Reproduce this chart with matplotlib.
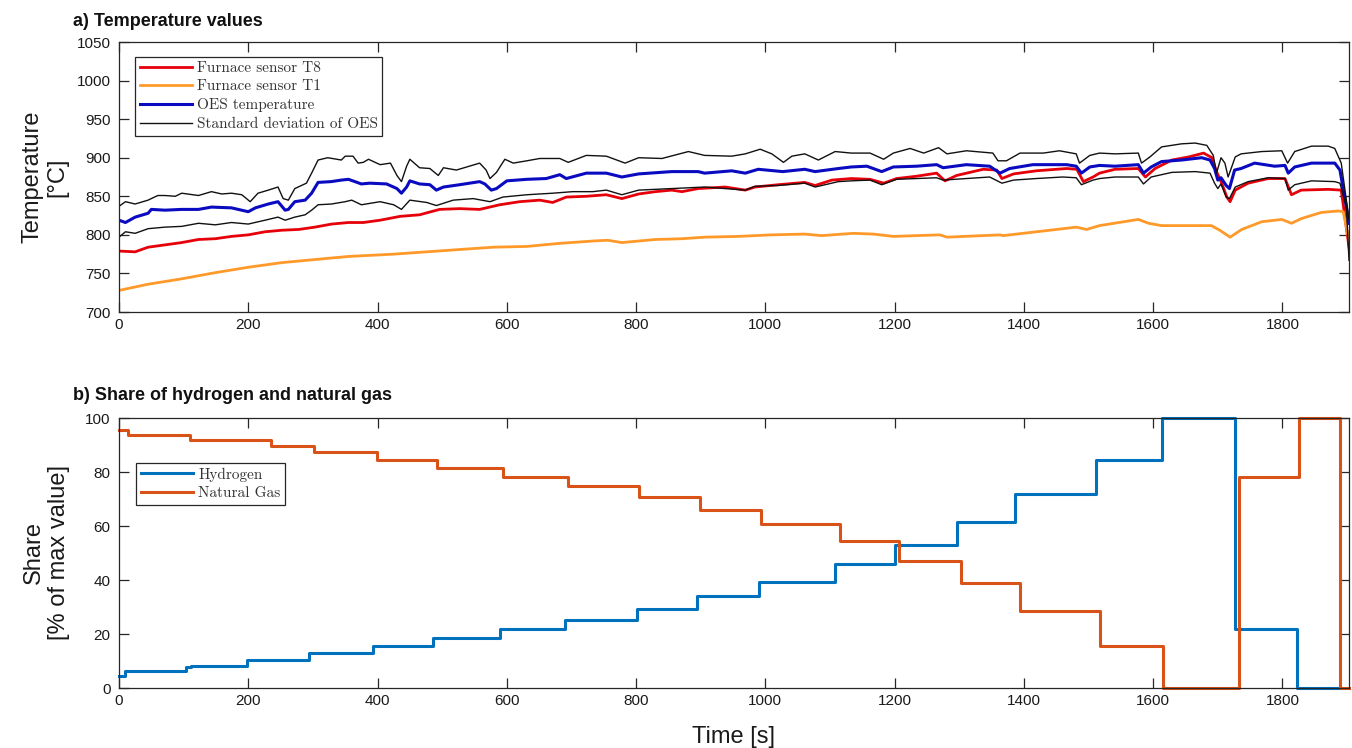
import matplotlib
matplotlib.use("Agg")
import matplotlib.pyplot as plt
import numpy as np

# ---------------- data: a) temperature values ----------------
t_oes = [0, 10, 25, 45, 50, 71, 97, 123, 143, 174,
         200, 211, 231, 246, 257, 262, 272, 288, 298, 308,
         328, 344, 355, 365, 375, 388, 414, 430, 437, 445,
         450, 465, 481, 491, 502, 527, 558, 566, 576, 584,
         600, 631, 661, 682, 692, 723, 754, 778, 804, 855,
         896, 906, 948, 969, 989, 1027, 1061, 1077, 1113, 1133,
         1157, 1180, 1198, 1234, 1265, 1275, 1311, 1347, 1363, 1378,
         1414, 1466, 1481, 1489, 1502, 1517, 1541, 1577, 1585, 1597,
         1613, 1644, 1675, 1688, 1695, 1700, 1705, 1713, 1718, 1726,
         1736, 1757, 1788, 1804, 1809, 1819, 1845, 1881, 1889, 1899,
         1903]
oes_temp = [819, 816, 823, 828, 833, 832, 833, 833, 836, 835,
            830, 835, 840, 843, 832, 833, 843, 845, 854, 868,
            869, 871, 872, 869, 866, 867, 866, 860, 854, 862,
            870, 866, 865, 858, 862, 865, 869, 866, 858, 860,
            870, 872, 873, 878, 873, 880, 880, 875, 879, 882,
            882, 880, 883, 880, 885, 882, 885, 882, 886, 888,
            889, 882, 888, 889, 891, 887, 891, 889, 880, 886,
            891, 891, 889, 880, 888, 890, 889, 891, 880, 888,
            895, 897, 900, 897, 886, 871, 874, 864, 860, 884,
            886, 893, 889, 890, 880, 888, 893, 893, 884, 836,
            815]

t_t8 = [0, 25, 45, 71, 97, 123, 149, 174, 200, 226,
        252, 278, 303, 329, 355, 378, 404, 435, 465, 496,
        527, 558, 589, 620, 651, 671, 692, 723, 754, 778,
        804, 830, 855, 871, 896, 938, 969, 984, 1020, 1061,
        1077, 1103, 1133, 1162, 1183, 1203, 1234, 1265, 1278, 1296,
        1337, 1358, 1366, 1384, 1419, 1466, 1482, 1492, 1507, 1517,
        1541, 1577, 1588, 1603, 1629, 1655, 1678, 1691, 1698, 1706,
        1714, 1719, 1727, 1747, 1778, 1804, 1814, 1829, 1871, 1891,
        1903]
t8_temp = [779, 778, 784, 787, 790, 794, 795, 798, 800, 804,
           806, 807, 810, 814, 816, 816, 819, 824, 826, 833,
           834, 833, 839, 843, 845, 842, 849, 850, 852, 847,
           853, 856, 858, 856, 860, 862, 858, 862, 865, 868,
           864, 871, 873, 872, 867, 873, 876, 880, 870, 877,
           885, 884, 873, 879, 883, 886, 885, 869, 875, 880,
           885, 886, 875, 886, 897, 901, 906, 900, 882, 867,
           849, 843, 858, 867, 873, 873, 852, 858, 859, 858,
           784]

t_t1 = [0, 45, 97, 149, 200, 252, 303, 355, 425, 476,
        527, 579, 631, 682, 733, 756, 778, 830, 871, 906,
        958, 1010, 1061, 1087, 1136, 1167, 1198, 1270, 1281, 1363,
        1368, 1440, 1481, 1497, 1517, 1577, 1593, 1613, 1690, 1703,
        1719, 1737, 1768, 1799, 1814, 1829, 1860, 1886, 1894, 1903]
t1_temp = [728, 736, 743, 751, 758, 764, 768, 772, 775, 778,
           781, 784, 785, 789, 792, 793, 790, 794, 795, 797,
           798, 800, 801, 799, 802, 801, 798, 800, 797, 800,
           799, 806, 810, 807, 812, 820, 815, 812, 812, 806,
           797, 807, 817, 820, 815, 821, 829, 831, 830, 793]

t_std_hi = [0, 10, 25, 45, 60, 71, 87, 97, 123, 143,
            159, 174, 190, 203, 215, 231, 246, 254, 262, 272,
            290, 298, 308, 323, 344, 350, 362, 370, 378, 386,
            404, 420, 430, 437, 445, 450, 465, 481, 494, 502,
            522, 538, 558, 568, 574, 584, 597, 610, 631, 651,
            682, 695, 723, 754, 783, 804, 840, 881, 906, 948,
            969, 992, 1010, 1028, 1041, 1061, 1082, 1108, 1133, 1162,
            1183, 1198, 1224, 1245, 1268, 1281, 1311, 1352, 1360, 1373,
            1394, 1430, 1455, 1481, 1486, 1502, 1517, 1541, 1577, 1582,
            1595, 1613, 1644, 1665, 1683, 1693, 1698, 1705, 1711, 1716,
            1727, 1736, 1768, 1799, 1808, 1819, 1845, 1871, 1881, 1891,
            1903]
std_hi = [837, 843, 840, 845, 851, 851, 850, 854, 851, 856,
          853, 854, 852, 843, 854, 858, 862, 847, 845, 860,
          867, 880, 897, 900, 897, 902, 902, 893, 894, 898,
          891, 893, 877, 869, 889, 898, 887, 886, 877, 887,
          884, 888, 893, 884, 873, 881, 898, 893, 896, 899,
          899, 894, 903, 902, 893, 900, 899, 908, 903, 902,
          905, 911, 905, 894, 902, 905, 897, 908, 906, 906,
          898, 906, 912, 906, 913, 905, 909, 906, 896, 896,
          906, 906, 909, 905, 893, 903, 906, 905, 906, 893,
          901, 914, 918, 919, 916, 903, 880, 900, 893, 875,
          901, 905, 908, 909, 893, 908, 915, 915, 912, 893,
          820]

t_std_lo = [0, 10, 25, 45, 71, 97, 123, 149, 174, 200,
            226, 246, 257, 272, 288, 298, 308, 329, 350, 360,
            375, 404, 425, 437, 450, 476, 491, 517, 548, 574,
            594, 631, 671, 702, 733, 754, 778, 804, 855, 906,
            969, 984, 1020, 1061, 1077, 1113, 1133, 1162, 1180, 1203,
            1234, 1265, 1275, 1311, 1347, 1366, 1384, 1419, 1460, 1481,
            1489, 1507, 1517, 1541, 1577, 1585, 1597, 1629, 1665, 1688,
            1695, 1700, 1705, 1713, 1718, 1727, 1747, 1778, 1804, 1809,
            1819, 1845, 1881, 1889, 1899, 1903]
std_lo = [797, 804, 802, 808, 810, 811, 815, 813, 816, 814,
          819, 823, 819, 823, 826, 832, 839, 840, 843, 845,
          839, 843, 839, 833, 845, 842, 838, 845, 847, 843,
          849, 852, 854, 856, 856, 858, 852, 858, 860, 862,
          858, 863, 864, 867, 862, 869, 870, 871, 865, 872,
          873, 874, 871, 873, 875, 867, 871, 873, 875, 874,
          865, 871, 873, 875, 875, 866, 875, 881, 882, 880,
          867, 860, 866, 849, 847, 862, 869, 874, 873, 858,
          865, 870, 869, 867, 836, 767]

# ---------------- data: b) share of hydrogen and natural gas ----------------
t_h2 = [0, 9, 103, 112, 198, 294, 393, 486, 589, 690, 801, 894, 990,
        1108, 1200, 1297, 1386, 1512, 1613, 1726, 1822, 1889]
h2_share = [4.5, 6.3, 7.8, 8.3, 10.4, 12.8, 15.4, 18.5, 21.7, 25.2, 29.3, 34.2, 39.4,
            46.0, 53.0, 61.4, 71.7, 84.6, 100, 21.9, 0, 0]

t_ng = [0, 14, 110, 235, 302, 399, 492, 594, 695, 805, 899, 994, 1115,
        1207, 1303, 1394, 1517, 1615, 1733, 1826, 1889, 1903]
ng_share = [95.7, 93.8, 91.7, 89.6, 87.3, 84.6, 81.5, 78.1, 74.7, 70.7, 66.0, 60.6, 54.3,
            47.2, 38.8, 28.4, 15.4, 0, 78.1, 100, 0, 0]

x_ticks = [0, 200, 400, 600, 800, 1000, 1200, 1400, 1600, 1800]
temp_ticks = [700, 750, 800, 850, 900, 950, 1000, 1050]
share_ticks = [0, 20, 40, 60, 80, 100]

# ---------------- styling ----------------
W, H = 1352, 748
AX_COL = "#262626"
SANS = "Liberation Sans"
SERIF = "cmr10"

fig = plt.figure(figsize=(W / 100, H / 100), dpi=100)
ax_l, ax_r = 119, 1349
ax1 = fig.add_axes([ax_l / W, 1 - 312 / H, (ax_r - ax_l) / W, 270 / H])
ax2 = fig.add_axes([ax_l / W, 1 - 688 / H, (ax_r - ax_l) / W, 270 / H])

for ax in (ax1, ax2):
    for sp in ax.spines.values():
        sp.set_color(AX_COL)
        sp.set_linewidth(0.9)
    ax.tick_params(direction="in", top=True, right=True, length=7, width=0.9,
                   color=AX_COL, labelsize=11, labelcolor="#1a1a1a")
    ax.tick_params(axis="x", pad=4.5)
    ax.tick_params(axis="y", pad=6)
    ax.set_xlim(0, 1903)
    ax.set_xticks(x_ticks)
    for lab in ax.get_xticklabels() + ax.get_yticklabels():
        lab.set_fontfamily(SANS)

legend_kw = dict(loc="upper left", fancybox=False, edgecolor=AX_COL, framealpha=1,
                 prop={"family": SERIF, "size": 11}, handlelength=3.4,
                 handletextpad=0.35, labelspacing=0.32, borderpad=0.3, borderaxespad=0)

# a) temperatures
ax1.plot(t_t8, t8_temp, color="#e6000a", lw=2.0, label="Furnace sensor T8")
ax1.plot(t_t1, t1_temp, color="#ff9a2a", lw=2.0, label="Furnace sensor T1")
ax1.plot(t_oes, oes_temp, color="#0a0ac0", lw=2.2, label="OES temperature")
ax1.plot(t_std_hi, std_hi, color="#111111", lw=1.0, label="Standard deviation of OES")
ax1.plot(t_std_lo, std_lo, color="#111111", lw=1.0)
ax1.set_ylim(700, 1050)
ax1.set_yticks(temp_ticks)
ax1.set_ylabel("Temperature\n[°C]", fontsize=17, fontfamily=SANS, color="#1a1a1a")
ax1.yaxis.set_label_coords(-0.041, 0.5)
leg1 = ax1.legend(bbox_to_anchor=(0.013, 0.946), **legend_kw)
leg1.get_frame().set_linewidth(0.9)
for txt in leg1.get_texts():
    txt.set_color("#333333")

# b) shares
ax2.plot(t_h2, h2_share, drawstyle="steps-post", color="#0072BD", lw=2.2,
         label="Hydrogen", clip_on=False)
ax2.plot(t_ng, ng_share, drawstyle="steps-post", color="#D95319", lw=2.2,
         label="Natural Gas", clip_on=False)
ax2.set_ylim(0, 100)
ax2.set_yticks(share_ticks)
ax2.set_ylabel("Share\n[% of max value]", fontsize=17, fontfamily=SANS, color="#1a1a1a")
ax2.yaxis.set_label_coords(-0.040, 0.5)
ax2.set_xlabel("Time [s]", fontsize=17, fontfamily=SANS, color="#1a1a1a", labelpad=13)
leg2 = ax2.legend(bbox_to_anchor=(0.014, 0.834), **legend_kw)
leg2.get_frame().set_linewidth(0.9)
for txt in leg2.get_texts():
    txt.set_color("#333333")

# panel titles
fig.text(73 / W, 1 - 26.5 / H, "a) Temperature values", fontsize=13, fontweight="bold",
         fontfamily=SANS, va="baseline", ha="left", color="#111111")
fig.text(73 / W, 1 - 400.5 / H, "b) Share of hydrogen and natural gas", fontsize=13,
         fontweight="bold", fontfamily=SANS, va="baseline", ha="left", color="#111111")

fig.savefig("out.png", dpi=100)
